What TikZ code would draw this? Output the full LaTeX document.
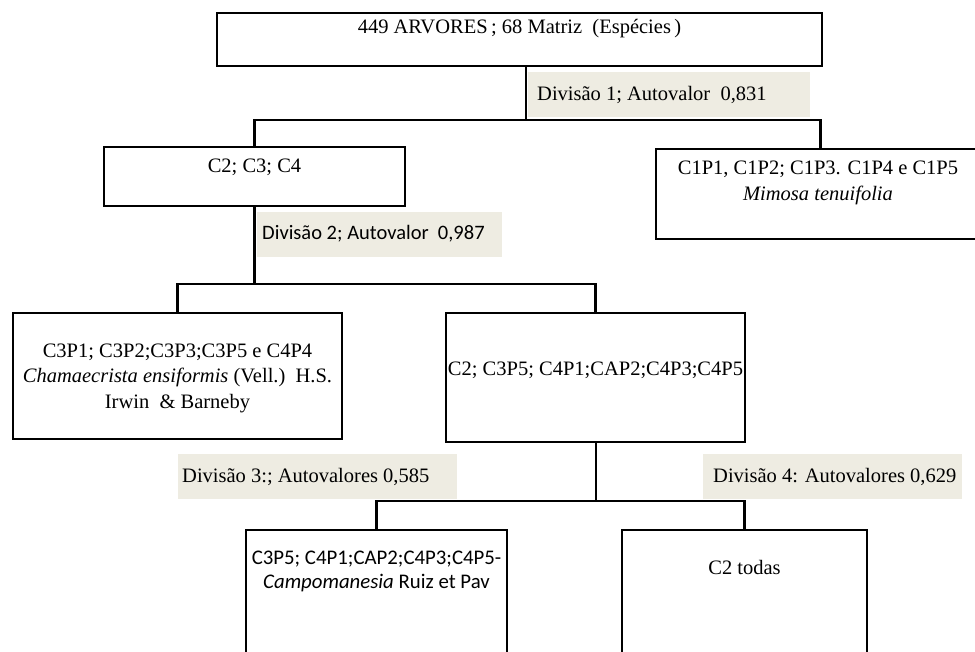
\documentclass[tikz,border=0pt]{standalone}
\usepackage{fontspec}
\setmainfont{Liberation Serif}
\newfontfamily\calfont{Carlito}
\definecolor{labbg}{RGB}{238,236,226}
\begin{document}
\begin{tikzpicture}[x=1pt,y=-1pt,
  box/.style={draw=black,line width=2.6pt,inner sep=0pt},
  conn/.style={draw=black,line width=2.6pt},
  labbox/.style={fill=labbg,inner sep=0pt,anchor=north west,minimum height=45pt},
  labtxt/.style={inner sep=0pt,anchor=west,font=\fontsize{20.5}{25}\selectfont},
  txt/.style={inner sep=0pt,align=center,font=\fontsize{20.5}{25.5}\selectfont},
  ctxt/.style={inner sep=0pt,align=center,font=\calfont\fontsize{20.8}{24}\selectfont},
]
\useasboundingbox (0,0) rectangle (975,652);
\fill[white] (0,0) rectangle (975,652);
\clip (0,0) rectangle (975,652);

% label backgrounds and texts
\node[labbox,minimum width=282pt] (l1) at (528,72) {};
\node[labtxt] (l1t) at (537,94.5) {Divisão 1; Autovalor \ 0,831};
\node[labbox,minimum width=245pt] (l2) at (257,212) {};
\node[labtxt,font=\calfont\fontsize{20.5}{25}\selectfont] (l2t) at (262,234) {Divisão 2; Autovalor\ \ 0,987};
\node[labbox,minimum width=279pt] (l3) at (178,454) {};
\node[labtxt] (l3t) at (182,476.5) {Divisão 3:; Autovalores 0,585};
\node[labbox,minimum width=259pt] (l4) at (703,454) {};
\node[labtxt] (l4t) at (713,476.5) {Divisão 4: Autovalores 0,629};

% boxes
\node[box,minimum width=605pt,minimum height=53pt] (top) at (519.5,39.5) {};
\node[box,minimum width=301pt,minimum height=59pt] (c234) at (254.5,176.5) {};
\node[box,minimum width=329pt,minimum height=90pt] (c1) at (820.5,194) {};
\node[box,minimum width=329pt,minimum height=126pt] (cl) at (177.5,376) {};
\node[box,minimum width=299pt,minimum height=129pt] (mid) at (595.5,377.5) {};
\node[box,minimum width=261pt,minimum height=170pt] (bl) at (376.5,615) {};
\node[box,minimum width=245pt,minimum height=170pt] (br) at (744.5,615) {};

% texts
\node[txt] (ttop) at (519.5,29) {449 ARVORES\,; 68 Matriz \ (Espécies\,)};
\node[txt] (t234) at (254.5,167) {C2; C3; C4};
\node[txt] (t1) at (818,183) {C1P1, C1P2; C1P3. C1P4 e C1P5\\\textit{Mimosa tenuifolia}};
\node[txt] (tl) at (177.5,378) {C3P1; C3P2;C3P3;C3P5 e C4P4\\\textit{Chamaecrista ensiformis} (Vell.)\ \ H.S.\\Irwin \ \& Barneby};
\node[txt] (tm) at (595.5,370) {C2; C3P5; C4P1;CAP2;C4P3;C4P5};
\node[ctxt] (tbl) at (376.5,571) {C3P5; C4P1;CAP2;C4P3;C4P5-\\\textit{Campomanesia} Ruiz et Pav};
\node[txt] (tbr) at (744.5,567) {C2 todas};

% connectors
\coordinate (j1) at (526,120);
\coordinate (j2) at (254.5,284);
\coordinate (j3) at (596,501);
\draw[conn] (top.south -| j1) -- (j1);
\draw[conn] (c234.north) |- (j1) -| (c1.north);
\draw[conn] (c234.south) -- (j2);
\draw[conn] (cl.north) |- (j2) -| (mid.north);
\draw[conn] (mid.south -| j3) -- (j3);
\draw[conn] (bl.north) |- (j3) -| (br.north);
\end{tikzpicture}
\end{document}
